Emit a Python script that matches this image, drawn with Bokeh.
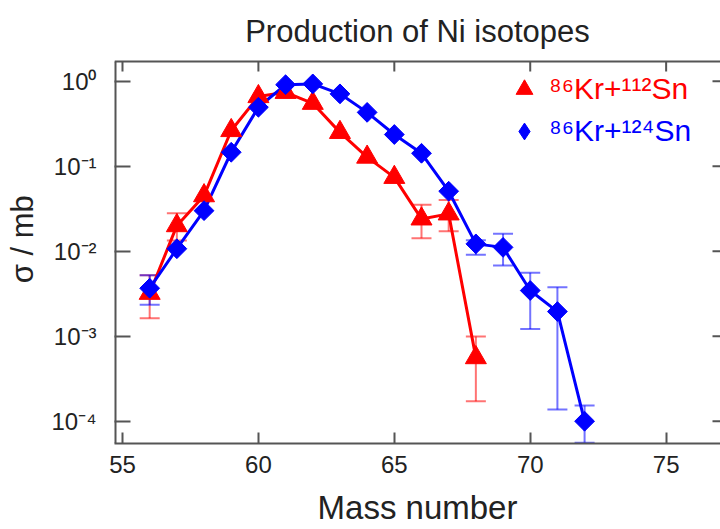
import math
from bokeh.plotting import figure
from bokeh.models import (Range1d, FixedTicker, CustomJSTickFormatter, Label,
                          ColumnDataSource, Whisker, TeeHead, Legend, LegendItem)
from bokeh.embed import file_html
from bokeh.resources import INLINE

# ---------------- data ----------------
mass_112 = [56, 57, 58, 59, 60, 61, 62, 63, 64, 65, 66, 67, 68]
sigma_112 = [3.2e-3, 0.020, 0.045, 0.263, 0.66, 0.74, 0.55, 0.25, 0.128, 0.074, 0.024, 0.0275, 5.6e-4]
err_mass_112 = [56, 57, 66, 67, 68]
err_lo_112 = [1.63e-3, 0.0134, 0.0142, 0.0172, 1.72e-4]
err_hi_112 = [5.2e-3, 0.028, 0.0353, 0.040, 9.9e-4]

mass_124 = [56, 57, 58, 59, 60, 61, 62, 63, 64, 65, 66, 67, 68, 69, 70, 71, 72]
sigma_124 = [3.67e-3, 0.0107, 0.030, 0.146, 0.494, 0.91, 0.93, 0.71, 0.43, 0.236, 0.142,
             0.0508, 0.0122, 0.0111, 3.45e-3, 1.95e-3, 1.0e-4]
err_mass_124 = [56, 68, 69, 70, 71, 72]
err_lo_124 = [2.34e-3, 0.0091, 0.0068, 1.22e-3, 1.37e-4, 5.6e-5]
err_hi_124 = [5.2e-3, 0.0135, 0.016, 5.57e-3, 3.77e-3, 1.53e-4]

x_ticks = [55, 60, 65, 70, 75]
y_ticks = [1e-4, 1e-3, 1e-2, 1e-1, 1.0]
y_tick_labels = ["10⁻⁴", "10⁻³", "10⁻²", "10⁻¹", "10⁰"]

series_labels = ["⁸⁶Kr+¹¹²Sn", "⁸⁶Kr+¹²⁴Sn"]
title_text = "Production of Ni isotopes"
x_label = "Mass number"
y_label = "σ / mb"

RED = "#ff0000"
BLUE = "#0000ff"
AXC = "#555555"
FONT = "Liberation Sans"

FB = 443   # canvas y of plot-box bottom
FL = 114   # canvas x of plot-box left
FT = 61    # canvas y of plot-box top
PX_PER_DEC = 85.0
PX_PER_UNIT = 27.19

X0, X1 = 54.706, 77.0
Y0, Y1 = 5.47e-5, 1.706                    # plot box (drawn frame)
Y_CANVAS_TOP = Y1 * 10 ** (FT / PX_PER_DEC)  # range extends up to the canvas top (room for title)

p = figure(width=720, height=529, y_axis_type="log",
           x_range=Range1d(X0, X1), y_range=Range1d(Y0, Y_CANVAS_TOP),
           output_backend="svg", toolbar_location=None,
           min_border_left=FL, min_border_right=0, min_border_top=0, min_border_bottom=529 - FB)
p.outline_line_color = None
p.background_fill_color = "white"
p.border_fill_color = "white"
p.grid.visible = False

# title (inside the canvas area above the drawn box)
p.add_layout(Label(x=(417 - FL), y=FB - 31, x_units="screen", y_units="screen",
                   text=title_text, text_font=FONT, text_font_size="31px",
                   text_color="#222222", text_align="center", text_baseline="alphabetic"))

# bottom axis
xa = p.xaxis[0]
xa.ticker = FixedTicker(ticks=x_ticks)
xa.axis_label = x_label
xa.axis_label_text_font = FONT
xa.axis_label_text_font_style = "normal"
xa.axis_label_text_font_size = "33px"
xa.axis_label_text_color = "#222222"
xa.axis_label_standoff = 13
xa.major_label_text_font = FONT
xa.major_label_text_font_size = "24px"
xa.major_label_text_color = "#222222"
xa.major_label_standoff = 12
xa.major_tick_in = 11
xa.major_tick_out = 0
xa.minor_tick_in = 0
xa.minor_tick_out = 0
xa.axis_line_color = AXC
xa.axis_line_width = 2
xa.major_tick_line_color = AXC
xa.major_tick_line_width = 2

# left axis (line drawn separately so it stops at the box top)
ya = p.yaxis[0]
ya.ticker = FixedTicker(ticks=y_ticks)
ya.formatter = CustomJSTickFormatter(args=dict(vals=y_ticks, labs=y_tick_labels), code="""
    let best = 0, bd = 1e9;
    for (let i = 0; i < vals.length; i++) {
        const d = Math.abs(Math.log10(vals[i]) - Math.log10(tick));
        if (d < bd) { bd = d; best = i; }
    }
    return labs[best];
""")
# trailing no-break spaces re-centre the label on the drawn box instead of the taller frame
ya.axis_label = y_label + "\u00a0" * 4
ya.axis_label_text_font = FONT
ya.axis_label_text_font_style = "normal"
ya.axis_label_text_font_size = "31px"
ya.axis_label_text_color = "#222222"
ya.axis_label_standoff = 8
ya.major_label_text_font = FONT
ya.major_label_text_font_size = "24px"
ya.major_label_text_color = "#222222"
ya.major_label_standoff = 18
ya.major_tick_in = 16
ya.major_tick_out = 0
ya.minor_tick_in = 0
ya.minor_tick_out = 0
ya.axis_line_color = None
ya.major_tick_line_color = AXC
ya.major_tick_line_width = 2

# box lines and mirrored ticks (from the tick arrays, through the scales)
p.segment(x0=[X0], x1=[X0], y0=[Y0], y1=[Y1], line_color=AXC, line_width=4)
p.segment(x0=[X0], x1=[X1], y0=[Y1], y1=[Y1], line_color=AXC, line_width=2)
top_len = 10 ** (10 / PX_PER_DEC)
p.segment(x0=x_ticks, x1=x_ticks, y0=[Y1] * len(x_ticks), y1=[Y1 / top_len] * len(x_ticks),
          line_color=AXC, line_width=2)
p.segment(x0=[X1 - 8 / PX_PER_UNIT] * len(y_ticks), x1=[X1] * len(y_ticks), y0=y_ticks, y1=y_ticks,
          line_color=AXC, line_width=2)

# error bars
src_e112 = ColumnDataSource(dict(x=err_mass_112, lo=err_lo_112, hi=err_hi_112))
src_e124 = ColumnDataSource(dict(x=err_mass_124, lo=err_lo_124, hi=err_hi_124))
for src, col in ((src_e112, RED), (src_e124, BLUE)):
    w = Whisker(base="x", lower="lo", upper="hi", source=src, dimension="height",
                line_color=col, line_alpha=0.55, line_width=2, level="underlay",
                upper_head=TeeHead(size=20, line_color=col, line_alpha=0.55, line_width=2),
                lower_head=TeeHead(size=20, line_color=col, line_alpha=0.55, line_width=2))
    p.add_layout(w)

# lines and markers
src112 = ColumnDataSource(dict(x=mass_112, y=sigma_112))
src124 = ColumnDataSource(dict(x=mass_124, y=sigma_124))
p.line("x", "y", source=src112, line_color=RED, line_width=3)
p.line("x", "y", source=src124, line_color=BLUE, line_width=3)
r112 = p.scatter("x", "y", source=src112, marker="triangle", size=21,
                 fill_color=RED, line_color=RED)
# upright diamonds (used for the legend symbol), fully covered by the rotated squares
r124_leg = p.scatter("x", "y", source=src124, marker="diamond", size=18,
                     fill_color=BLUE, line_color=BLUE)
r124 = p.scatter("x", "y", source=src124, marker="square", size=14, angle=math.pi / 4,
                 fill_color=BLUE, line_color=BLUE)

# legends (one per series, so each label keeps its colour)
GW = 42
for i, (r, col, cy) in enumerate(((r112, RED, 89), (r124_leg, BLUE, 131))):
    gh = 42
    leg = Legend(items=[LegendItem(label=series_labels[i], renderers=[r])],
                 location=(524 - GW / 2 - FL, FB - (cy + gh / 2)),
                 glyph_width=GW, glyph_height=gh, spacing=0, padding=0, margin=0,
                 label_standoff=4, label_text_font=FONT, label_text_font_size="30px",
                 label_text_color=col, label_height=gh,
                 border_line_color=None, background_fill_alpha=0)
    p.add_layout(leg, "center")

open("out.html", "w").write(file_html(p, INLINE))
